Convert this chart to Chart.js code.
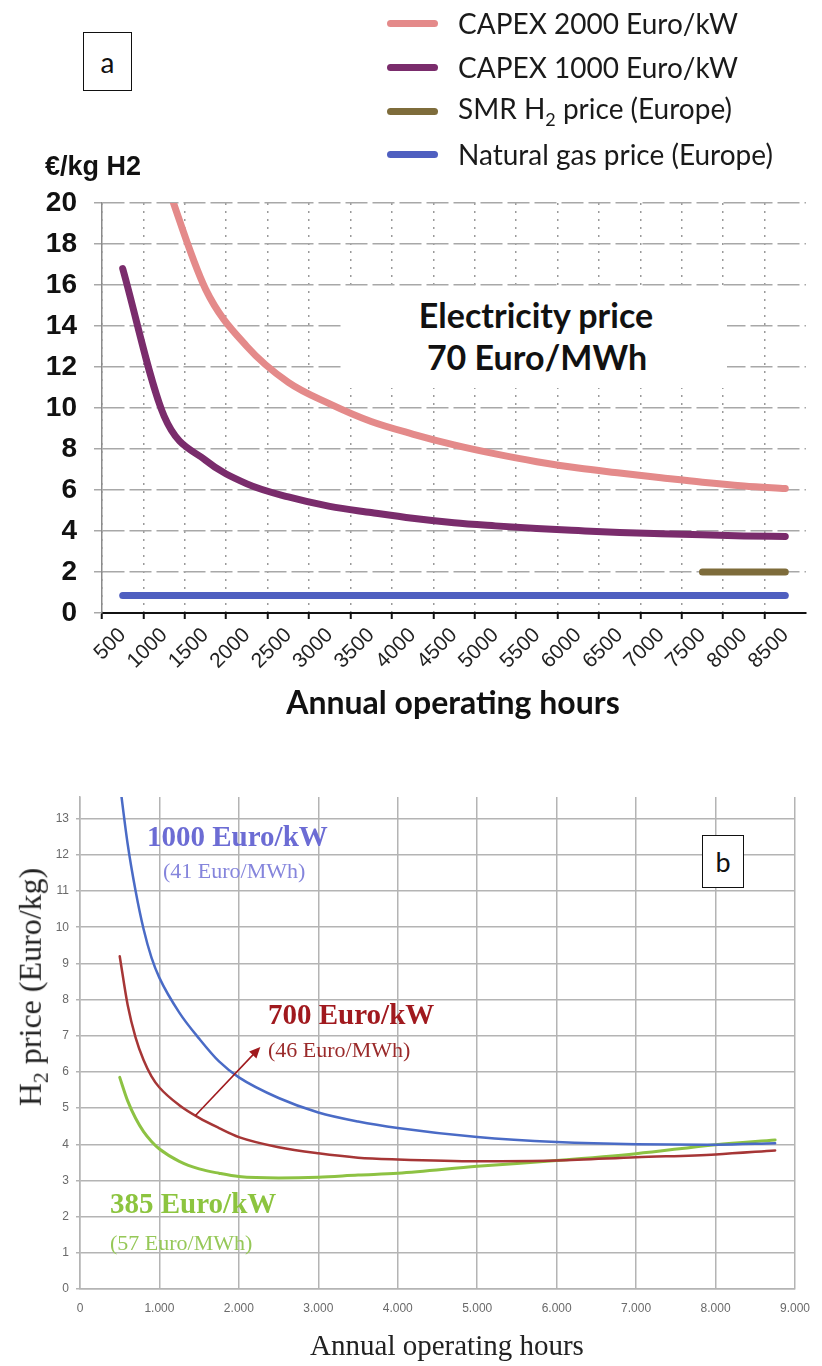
<!DOCTYPE html>
<html>
<head>
<meta charset="utf-8">
<script src="https://cdn.jsdelivr.net/npm/chart.js@4.4.0/dist/chart.umd.min.js"></script>
<style>
  body { margin: 0; background: #fff; }
  #page { position: relative; width: 822px; height: 1366px; overflow: hidden; background: #fff; }
  #chartA { position: absolute; left: 0; top: 0; }
  #chartB { position: absolute; left: 0; top: 760px; }
  .t { position: absolute; white-space: nowrap; line-height: 1; }
  .mid { transform: translate(-50%, -50%); }
  .lab { font-family: Lato, sans-serif; }
  .serif { font-family: "Liberation Serif", "Times New Roman", serif; }
  .box { position: absolute; box-sizing: border-box; border: 1.5px solid #111; display: flex;
         align-items: center; justify-content: center; font-family: Lato, sans-serif; font-size: 28px; color: #111; background: #fff; }
  .leg-row { position: absolute; left: 387px; height: 28px; display: flex; align-items: center; }
  .leg-line { width: 51px; height: 7px; border-radius: 4px; margin-right: 20px; }
  .leg-text { font-family: Lato, sans-serif; font-size: 28px; color: #1a1a1a; line-height: 1; white-space: nowrap; }
</style>
</head>
<body>
<div id="page">
  <canvas id="chartA" width="822" height="760"></canvas>
  <canvas id="chartB" width="822" height="606"></canvas>

  <!-- panel a texts -->
  <div id="legendA"></div>
  <div class="box" style="left:83px;top:32px;width:49px;height:59px;">a</div>
  <div class="t" style="left:45px;top:151px;font:bold 27px 'Liberation Sans',Arial,sans-serif;color:#111;">€/kg H2</div>
  <div class="t" style="left:345px;top:290px;width:382px;height:98px;background:#fff;"></div>
  <div class="t mid lab" style="left:536px;top:315px;font-weight:bold;font-size:34px;color:#111;">Electricity price</div>
  <div class="t mid lab" style="left:537px;top:357px;font-weight:bold;font-size:34px;color:#111;">70 Euro/MWh</div>
  <div class="t mid lab" style="left:453px;top:702px;font-weight:bold;font-size:32px;color:#111;">Annual operating hours</div>

  <!-- panel b texts -->
  <div class="box" style="left:702px;top:835px;width:42px;height:53px;font-size:27px;">b</div>
  <div class="t serif" style="left:147px;top:822px;font-weight:bold;font-size:29px;color:#6c6cd4;">1000 Euro/kW</div>
  <div class="t serif" style="left:163px;top:860px;font-size:22px;color:#8585dc;">(41 Euro/MWh)</div>
  <div class="t serif" style="left:268px;top:1000px;font-weight:bold;font-size:29px;color:#a0191e;">700 Euro/kW</div>
  <div class="t serif" style="left:268px;top:1039px;font-size:22px;color:#9a2a2a;">(46 Euro/MWh)</div>
  <div class="t serif" style="left:110px;top:1189px;font-weight:bold;font-size:29px;color:#8cc43f;">385 Euro/kW</div>
  <div class="t serif" style="left:110px;top:1232px;font-size:22px;color:#96c858;">(57 Euro/MWh)</div>
  <div class="t mid serif" style="left:33px;top:987px;font-size:32px;color:#222;transform:translate(-50%,-50%) rotate(-90deg);">H<sub style="font-size:22px;">2</sub> price (Euro/kg)</div>
  <div class="t mid serif" style="left:447px;top:1345px;font-size:29px;color:#222;">Annual operating hours</div>
</div>

<script>
// ---------- panel a: cost vs annual operating hours, 70 Euro/MWh ----------
const hoursA = ['500', '1000', '1500', '2000', '2500', '3000', '3500', '4000', '4500',
                '5000', '5500', '6000', '6500', '7000', '7500', '8000', '8500'];
const capex2000 = [null, 21.3, 15.8, 13.0, 11.25, 10.2, 9.34, 8.73, 8.2, 7.76, 7.38, 7.07, 6.83, 6.6, 6.38, 6.2, 6.07];
const capex1000 = [16.8, 9.6, 7.45, 6.3, 5.66, 5.2, 4.9, 4.62, 4.4, 4.25, 4.12, 4.02, 3.93, 3.87, 3.82, 3.76, 3.73];
const smrPrice = [null, null, null, null, null, null, null, null, null, null, null, null, null, null, 2.0, 2.0, 2.0];
const gasPrice = [0.85, 0.85, 0.85, 0.85, 0.85, 0.85, 0.85, 0.85, 0.85, 0.85, 0.85, 0.85, 0.85, 0.85, 0.85, 0.85, 0.85];
const yTicksA = [0, 2, 4, 6, 8, 10, 12, 14, 16, 18, 20];
const namesA = ['CAPEX 2000 Euro/kW', 'CAPEX 1000 Euro/kW', 'SMR H₂ price (Europe)', 'Natural gas price (Europe)'];
const colorsA = ['#e48a8a', '#7a2c6c', '#7e6c3b', '#4f5fc0'];

// ---------- panel b: H2 price vs annual operating hours ----------
const hoursB = [500, 600, 700, 800, 900, 1000, 1250, 1500, 1750, 2000, 2500, 3000, 3500, 4000, 5000, 6000, 7000, 8000, 8750];
const capex1000B = [14.0, 12.3, 11.0, 9.95, 9.16, 8.6, 7.64, 6.92, 6.29, 5.85, 5.28, 4.88, 4.63, 4.45, 4.2, 4.06, 4.0, 3.99, 4.03];
const capex700B = [9.2, 7.85, 6.95, 6.33, 5.88, 5.57, 5.08, 4.73, 4.45, 4.2, 3.92, 3.75, 3.63, 3.58, 3.53, 3.55, 3.64, 3.72, 3.83];
const capex385B = [5.85, 5.2, 4.72, 4.35, 4.08, 3.87, 3.53, 3.32, 3.2, 3.11, 3.07, 3.09, 3.15, 3.2, 3.39, 3.55, 3.74, 3.99, 4.12];
const colorsB = ['#4a6bc6', '#a63636', '#8dc243'];
const xTicksB = [0, 1000, 2000, 3000, 4000, 5000, 6000, 7000, 8000, 9000];
const yTicksB = [0, 1, 2, 3, 4, 5, 6, 7, 8, 9, 10, 11, 12, 13];
// arrow pointing from the 700 Euro/kW curve to its label [hours, price]
const arrowFrom = [1450, 4.79];
const arrowTo = [2270, 6.69];

Chart.defaults.font.family = "'Liberation Sans', Arial, sans-serif";
Chart.defaults.animation = false;

// legend for panel a (html, one row per series)
const legendA = document.getElementById('legendA');
const legendY = [23, 67, 111, 154];
namesA.forEach((name, i) => {
  const row = document.createElement('div');
  row.className = 'leg-row';
  row.style.top = (legendY[i] - 14) + 'px';
  row.innerHTML = '<div class="leg-line" style="background:' + colorsA[i] + '"></div>' +
    '<div class="leg-text">' + name.replace('H₂', 'H<sub style="font-size:18px">2</sub>') + '</div>';
  legendA.appendChild(row);
});

const lineStyle = (color, width) => ({
  borderColor: color,
  backgroundColor: color,
  borderWidth: width,
  borderCapStyle: 'round',
  pointRadius: 0,
  cubicInterpolationMode: 'monotone',
  fill: false,
});

new Chart(document.getElementById('chartA'), {
  type: 'line',
  data: {
    labels: hoursA,
    datasets: [
      { label: namesA[0], data: capex2000, ...lineStyle(colorsA[0], 7) },
      { label: namesA[1], data: capex1000, ...lineStyle(colorsA[1], 7) },
      { label: namesA[2], data: smrPrice, ...lineStyle(colorsA[2], 7) },
      { label: namesA[3], data: gasPrice, ...lineStyle(colorsA[3], 7) },
    ],
  },
  options: {
    responsive: false,
    layout: { padding: { top: 203, right: 16, left: 0, bottom: 0 } },
    plugins: { legend: { display: false }, tooltip: { enabled: false } },
    scales: {
      x: {
        type: 'category',
        offset: true,
        afterFit: (s) => { s.height = 147; },
        grid: {
          offset: true,
          color: (c) => (c.index === undefined ? 'rgba(0,0,0,0)' : '#9a9a9a'),
          lineWidth: 1.5,
          tickLength: 6,
          tickColor: (c) => (c.index === undefined ? 'rgba(0,0,0,0)' : '#111'),
          tickWidth: 2,
        },
        border: { color: '#111', width: 2, dash: [2, 6] },
        ticks: {
          autoSkip: false,
          minRotation: 45,
          maxRotation: 45,
          padding: 4,
          color: '#222',
          font: { size: 21 },
        },
      },
      y: {
        min: 0,
        max: 20,
        afterFit: (s) => { s.width = 102; },
        afterBuildTicks: (s) => { s.ticks = yTicksA.map((v) => ({ value: v })); },
        grid: { color: '#a8a8a8', lineWidth: 1.5, tickLength: 8, tickColor: '#a8a8a8' },
        border: { color: '#8a8a8a', width: 1.5, dash: [22, 5] },
        ticks: { padding: 17, color: '#111', font: { size: 28, weight: 'bold' } },
      },
    },
  },
});

const arrowPlugin = {
  id: 'arrowB',
  afterDatasetsDraw(chart) {
    const { ctx, scales: { x, y } } = chart;
    const x1 = x.getPixelForValue(arrowFrom[0]), y1 = y.getPixelForValue(arrowFrom[1]);
    const x2 = x.getPixelForValue(arrowTo[0]), y2 = y.getPixelForValue(arrowTo[1]);
    const ang = Math.atan2(y2 - y1, x2 - x1);
    ctx.save();
    ctx.strokeStyle = '#a01a1e';
    ctx.fillStyle = '#a01a1e';
    ctx.lineWidth = 1.6;
    ctx.beginPath();
    ctx.moveTo(x1, y1);
    ctx.lineTo(x2 - 6 * Math.cos(ang), y2 - 6 * Math.sin(ang));
    ctx.stroke();
    ctx.beginPath();
    ctx.moveTo(x2, y2);
    ctx.lineTo(x2 - 11 * Math.cos(ang) + 5 * Math.sin(ang), y2 - 11 * Math.sin(ang) - 5 * Math.cos(ang));
    ctx.lineTo(x2 - 11 * Math.cos(ang) - 5 * Math.sin(ang), y2 - 11 * Math.sin(ang) + 5 * Math.cos(ang));
    ctx.closePath();
    ctx.fill();
    ctx.restore();
  },
};

const toPoints = (ys) => hoursB.map((h, i) => ({ x: h, y: ys[i] }));

new Chart(document.getElementById('chartB'), {
  type: 'line',
  data: {
    datasets: [
      { label: '1000 Euro/kW', data: toPoints(capex1000B), ...lineStyle(colorsB[0], 2.5) },
      { label: '700 Euro/kW', data: toPoints(capex700B), ...lineStyle(colorsB[1], 2.5) },
      { label: '385 Euro/kW', data: toPoints(capex385B), ...lineStyle(colorsB[2], 3) },
    ],
  },
  options: {
    responsive: false,
    layout: { padding: { top: 37, right: 15, left: 0, bottom: 0 } },
    plugins: { legend: { display: false }, tooltip: { enabled: false } },
    scales: {
      x: {
        type: 'linear',
        min: 0,
        max: 9000,
        afterFit: (s) => { s.height = 77; },
        afterBuildTicks: (s) => { s.ticks = xTicksB.map((v) => ({ value: v })); },
        grid: { color: '#b4b4b4', lineWidth: 1.5, drawTicks: false },
        border: { color: '#b4b4b4', width: 1.5 },
        ticks: {
          padding: 12,
          color: '#6a6a6a',
          font: { size: 12 },
          callback: (v) => (v >= 1000 ? Math.floor(v / 1000) + '.' + String(v % 1000).padStart(3, '0') : String(v)),
        },
      },
      y: {
        min: 0,
        max: 13.6,
        afterFit: (s) => { s.width = 80; },
        afterBuildTicks: (s) => { s.ticks = yTicksB.map((v) => ({ value: v })); },
        grid: { color: '#b4b4b4', lineWidth: 1.5, tickLength: 4, tickColor: '#b4b4b4' },
        border: { color: '#b4b4b4', width: 1.5 },
        ticks: { padding: 7, color: '#6a6a6a', font: { size: 12 } },
      },
    },
  },
  plugins: [arrowPlugin],
});
</script>
</body>
</html>
